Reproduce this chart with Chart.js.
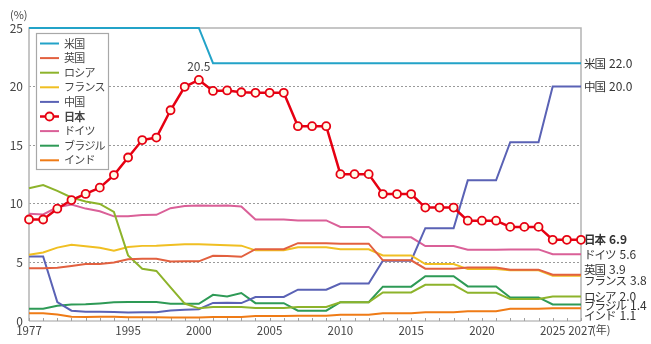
<!DOCTYPE html>
<html>
<head>
<meta charset="utf-8">
<script src="https://cdn.jsdelivr.net/npm/chart.js@4.4.0/dist/chart.umd.min.js"></script>
<style>
  html, body { margin: 0; padding: 0; background: #fff; }
  #wrap { width: 651px; height: 344px; }
</style>
</head>
<body>
<div id="wrap"><canvas id="Chart"></canvas></div>
<script>
// categories (scale periods before 1995, then every year)
const years = ['1977','1978','1980','1983','1986','1989','1992',
  '1995','1996','1997','1998','1999','2000','2001','2002','2003','2004','2005','2006',
  '2007','2008','2009','2010','2011','2012','2013','2014','2015','2016','2017','2018',
  '2019','2020','2021','2022','2023','2024','2025','2026','2027'];
const shownYears = ['1977','1995','2000','2005','2010','2015','2020','2025','2027'];
const yTicks = [0, 5, 10, 15, 20, 25];

const names = ['米国','英国','ロシア','フランス','中国','日本','ドイツ','ブラジル','インド'];
const endLabels = ['22.0','3.9','2.0','3.8','20.0','6.9','5.6','1.4','1.1'];

const usa = [25,25,25,25,25,25,25,25,25,25,25,25,25,22,22,22,22,22,22,22,22,22,22,22,22,22,22,22,22,22,22,22,22,22,22,22,22,22,22,22];
const uk = [4.5,4.5,4.54,4.7,4.86,4.86,5.0,5.27,5.32,5.32,5.08,5.09,5.09,5.57,5.54,5.48,6.13,6.13,6.13,6.64,6.64,6.64,6.6,6.6,6.6,5.18,5.18,5.18,4.46,4.46,4.46,4.57,4.57,4.57,4.38,4.38,4.38,3.95,3.95,3.95];
const russia = [11.33,11.6,11.1,10.54,10.2,9.99,9.3,5.6,4.45,4.27,2.87,1.49,1.08,1.2,1.2,1.2,1.1,1.1,1.1,1.2,1.2,1.2,1.6,1.6,1.6,2.44,2.44,2.44,3.09,3.09,3.09,2.41,2.41,2.41,1.87,1.87,1.87,2.09,2.09,2.09];
const france = [5.65,5.85,6.26,6.51,6.37,6.25,6.0,6.32,6.41,6.42,6.49,6.54,6.55,6.5,6.47,6.43,6.03,6.03,6.03,6.3,6.3,6.3,6.12,6.12,6.12,5.59,5.59,5.59,4.86,4.86,4.86,4.43,4.43,4.43,4.32,4.32,4.32,3.86,3.86,3.86];
const china = [5.5,5.5,1.62,0.88,0.79,0.79,0.77,0.72,0.74,0.74,0.9,0.97,1.0,1.54,1.55,1.53,2.05,2.05,2.05,2.67,2.67,2.67,3.19,3.19,3.19,5.15,5.15,5.15,7.92,7.92,7.92,12.0,12.0,12.0,15.25,15.25,15.25,20.0,20.0,20.0];
const japan = [8.66,8.66,9.58,10.32,10.84,11.38,12.45,13.95,15.44,15.65,17.98,19.98,20.57,19.63,19.67,19.52,19.47,19.47,19.47,16.62,16.62,16.62,12.53,12.53,12.53,10.83,10.83,10.83,9.68,9.68,9.68,8.56,8.56,8.56,8.03,8.03,8.03,6.93,6.93,6.93];
const germany = [9.15,9.09,9.7,9.93,9.59,9.36,8.93,8.94,9.04,9.06,9.63,9.81,9.86,9.83,9.85,9.77,8.66,8.66,8.66,8.58,8.58,8.58,8.02,8.02,8.02,7.14,7.14,7.14,6.39,6.39,6.39,6.09,6.09,6.09,6.11,6.11,6.11,5.69,5.69,5.69];
const brazil = [1.05,1.05,1.3,1.41,1.42,1.5,1.59,1.62,1.62,1.62,1.47,1.47,1.47,2.23,2.09,2.39,1.52,1.52,1.52,0.88,0.88,0.88,1.61,1.61,1.61,2.93,2.93,2.93,3.82,3.82,3.82,2.95,2.95,2.95,2.01,2.01,2.01,1.41,1.41,1.41];
const india = [0.67,0.67,0.55,0.36,0.35,0.37,0.36,0.31,0.31,0.31,0.3,0.3,0.3,0.34,0.34,0.34,0.42,0.42,0.42,0.45,0.45,0.45,0.53,0.53,0.53,0.67,0.67,0.67,0.74,0.74,0.74,0.83,0.83,0.83,1.04,1.04,1.04,1.09,1.09,1.09];

const series = [usa, uk, russia, france, china, japan, germany, brazil, india];
const colors = ['#23a3c8','#e2603f','#8db32b','#f0bf22','#5a62b5','#e60012','#da6098','#2e9a56','#ef7b16'];
const labelShift = [0, -5, 0, 5, 0, 0, 0, 1, 7];

const FONT = '"Noto Sans CJK JP", "Noto Sans", sans-serif';
Chart.defaults.font.family = FONT;

const datasets = series.map((d, i) => {
  const isJapan = names[i] === '日本';
  return {
    label: names[i],
    data: d,
    borderColor: colors[i],
    backgroundColor: colors[i],
    borderWidth: isJapan ? 2.5 : 2,
    pointRadius: isJapan ? 4 : 0,
    pointBackgroundColor: '#fffbe8',
    pointBorderColor: colors[i],
    pointBorderWidth: 1.8,
    tension: 0,
    clip: false,
    order: isJapan ? 0 : 1
  };
});

const decorations = {
  id: 'decorations',
  beforeDatasetsDraw(chart) {
    const {ctx, chartArea: a, scales: {x}} = chart;
    ctx.save();
    ctx.strokeStyle = '#b4b4b4';
    ctx.lineWidth = 1.5;
    ctx.beginPath();
    ctx.moveTo(a.left, a.bottom);
    ctx.lineTo(a.left, a.top);
    ctx.lineTo(a.right, a.top);
    ctx.lineTo(a.right, a.bottom);
    ctx.stroke();
    ctx.strokeStyle = '#a0a0a0';
    ctx.lineWidth = 1.2;
    ctx.beginPath();
    ctx.moveTo(a.left, a.bottom);
    ctx.lineTo(a.right, a.bottom);
    ctx.stroke();
    // small ticks at every category
    ctx.lineWidth = 1;
    ctx.beginPath();
    years.forEach((y, i) => {
      const px = Math.round(x.getPixelForValue(i)) + 0.5;
      ctx.moveTo(px, a.bottom);
      ctx.lineTo(px, a.bottom - 3);
    });
    ctx.stroke();
    ctx.restore();
  },
  afterDatasetsDraw(chart) {
    const {ctx, chartArea: a, scales: {x, y}} = chart;
    ctx.save();
    ctx.textBaseline = 'middle';

    // unit labels
    ctx.fillStyle = '#444';
    ctx.font = '11px ' + FONT;
    ctx.textAlign = 'left';
    ctx.fillText('(%)', 10, 15);
    ctx.fillText('(年)', a.right + 11, a.bottom + 9);

    // peak value for Japan
    const ji = names.indexOf('日本');
    let pk = 0;
    japan.forEach((v, i) => { if (v > japan[pk]) pk = i; });
    ctx.textAlign = 'center';
    ctx.font = '12px ' + FONT;
    ctx.fillText('20.5', x.getPixelForValue(pk), y.getPixelForValue(japan[pk]) - 13);

    // end labels: name (tight kana) + value
    ctx.textAlign = 'left';
    series.forEach((d, i) => {
      const last = d.length - 1;
      const py = y.getPixelForValue(d[last]) + labelShift[i];
      const wt = i === ji ? 'bold ' : '';
      ctx.fillStyle = '#333';
      ctx.letterSpacing = '-1px';
      ctx.font = wt + '11.5px ' + FONT;
      const w = ctx.measureText(names[i]).width;
      ctx.fillText(names[i], a.right + 3, py);
      ctx.letterSpacing = '0px';
      ctx.font = wt + '12px ' + FONT;
      ctx.fillText(endLabels[i], a.right + 3 + w + 4, py);
    });

    // legend
    const lx = 36, ly = 33, lw = 72, lh = 136;
    ctx.fillStyle = '#fff';
    ctx.fillRect(lx, ly, lw, lh);
    ctx.strokeStyle = '#a8a8a8';
    ctx.lineWidth = 1.2;
    ctx.strokeRect(lx + 0.5, ly + 0.5, lw, lh);
    ctx.letterSpacing = '-0.8px';
    names.forEach((n, i) => {
      const iy = ly + 10.5 + i * 14.6;
      ctx.strokeStyle = colors[i];
      ctx.lineWidth = i === ji ? 2.5 : 2;
      ctx.beginPath();
      ctx.moveTo(lx + 4, iy);
      ctx.lineTo(lx + 23, iy);
      ctx.stroke();
      if (i === ji) {
        ctx.beginPath();
        ctx.arc(lx + 13.5, iy, 4, 0, Math.PI * 2);
        ctx.fillStyle = '#fffbe8';
        ctx.fill();
        ctx.lineWidth = 1.8;
        ctx.stroke();
      }
      ctx.fillStyle = '#444';
      ctx.font = (i === ji ? 'bold ' : '') + '11px ' + FONT;
      ctx.fillText(n, lx + 28, iy);
    });
    ctx.restore();
  }
};

new Chart(document.getElementById('Chart'), {
  type: 'line',
  data: { labels: years, datasets: datasets },
  options: {
    responsive: true,
    maintainAspectRatio: false,
    animation: false,
    devicePixelRatio: 1,
    layout: { padding: { left: 0, right: 70, top: 28, bottom: 0 } },
    plugins: { legend: { display: false }, tooltip: { enabled: false } },
    scales: {
      x: {
        type: 'category',
        offset: false,
        grid: { display: false, drawTicks: false },
        border: { display: false },
        ticks: {
          autoSkip: false,
          maxRotation: 0,
          padding: 3,
          color: '#444',
          font: { size: 11.5 },
          callback: function(v) {
            const lab = this.getLabelForValue(v);
            return shownYears.includes(lab) ? lab : '';
          }
        },
        afterFit(scale) { scale.height = 23; }
      },
      y: {
        min: 0,
        max: 25,
        afterBuildTicks(scale) { scale.ticks = yTicks.map(v => ({ value: v })); },
        grid: {
          drawTicks: false,
          lineWidth: 1,
          color: c => (c.tick && (c.tick.value === 0 || c.tick.value === 25)) ? 'rgba(0,0,0,0)' : '#9a9a9a'
        },
        border: { display: false, dash: [2, 2] },
        ticks: { padding: 6, color: '#444', font: { size: 12 } },
        afterFit(scale) { scale.width = 29; }
      }
    }
  },
  plugins: [decorations]
});
</script>
</body>
</html>
